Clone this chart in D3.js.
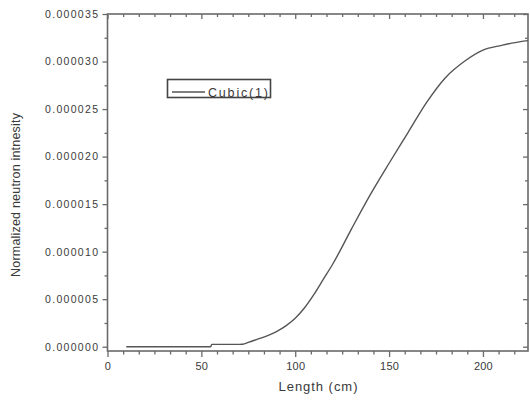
<!DOCTYPE html>
<html>
<head>
<meta charset="utf-8">
<script src="https://cdn.jsdelivr.net/npm/d3@7"></script>
<style>
  html, body { margin: 0; padding: 0; background: #fff; }
  svg { display: block; font-family: "Liberation Sans", Arial, sans-serif; }
</style>
</head>
<body>
<svg id="chart" width="530" height="404"></svg>
<script>
// Length along the sample (cm)
const lengthCm = [10, 20, 30, 40, 50, 55, 55.5, 60, 70, 72, 75, 80, 85, 90, 95, 100, 105, 110, 115, 120,
                  130, 140, 150, 160, 170, 180, 190, 200, 210, 220, 224];
// Normalized neutron intensity, cubic fit (1)
const intensity = [0, 0, 0, 0, 0, 0, 2.5e-7, 2.5e-7, 2.5e-7, 2.6e-7, 4.5e-7, 8.0e-7, 1.15e-6, 1.6e-6, 2.2e-6,
                   3.0e-6, 4.1e-6, 5.5e-6, 7.1e-6, 8.7e-6,
                   1.24e-5, 1.60e-5, 1.93e-5, 2.25e-5, 2.57e-5, 2.83e-5, 3.00e-5, 3.12e-5, 3.17e-5, 3.21e-5, 3.22e-5];
const xTicks = [0, 50, 100, 150, 200];
const yTicks = [0, 0.000005, 0.00001, 0.000015, 0.00002, 0.000025, 0.00003, 0.000035];
const seriesName = "Cubic(1)";
const xTitle = "Length (cm)";
const yTitle = "Normalized neutron intnesity";

const svg = d3.select("#chart");
const plotL = 107.5, plotR = 528, plotT = 14, plotB = 351;
const axisColor = "#6a6a6a";
const textColor = "#3a3a3a";

const x = d3.scaleLinear().domain([0, 224]).range([plotL, plotR]);
const y = d3.scaleLinear().domain([-4.5e-7, 3.5e-5]).range([plotB, plotT]);

// minor ticks: five between x majors, one between y majors
const xMinor = d3.range(0, 224, 50 / 6).filter(v => !xTicks.some(t => Math.abs(t - v) < 1e-6));
const yMinor = d3.range(0, 3.5e-5 + 1e-9, 2.5e-6).filter(v => !yTicks.some(t => Math.abs(t - v) < 1e-9));

const g = svg.append("g");

function tickGroup(sel) {
  sel.selectAll(".domain").remove();
  sel.selectAll("line").attr("stroke", axisColor).attr("stroke-width", 1.3);
}

// bottom axis (labelled) and top mirror
g.append("g").attr("transform", `translate(0,${plotB})`)
  .call(d3.axisBottom(x).tickValues(xTicks).tickSize(6).tickFormat(d3.format("d")))
  .call(tickGroup)
  .call(s => s.selectAll("text").attr("fill", textColor).attr("font-size", 11)
        .attr("dy", "0.71em").attr("y", 11.5).attr("letter-spacing", 0.2));
g.append("g").attr("transform", `translate(0,${plotB})`)
  .call(d3.axisBottom(x).tickValues(xMinor).tickSize(3.5).tickFormat(""))
  .call(tickGroup);
g.append("g").attr("transform", `translate(0,${plotT})`)
  .call(d3.axisBottom(x).tickValues(xTicks).tickSize(5).tickFormat(""))
  .call(tickGroup);
g.append("g").attr("transform", `translate(0,${plotT})`)
  .call(d3.axisBottom(x).tickValues(xMinor).tickSize(3).tickFormat(""))
  .call(tickGroup);

// left axis (labelled) and right mirror
g.append("g").attr("transform", `translate(${plotL},0)`)
  .call(d3.axisLeft(y).tickValues(yTicks).tickSize(5).tickFormat(d3.format(".6f")))
  .call(tickGroup)
  .call(s => s.selectAll("text").attr("fill", textColor).attr("font-size", 10.5)
        .attr("x", -9.5).attr("textLength", 53).attr("lengthAdjust", "spacing"));
g.append("g").attr("transform", `translate(${plotL},0)`)
  .call(d3.axisLeft(y).tickValues(yMinor).tickSize(3).tickFormat(""))
  .call(tickGroup);
g.append("g").attr("transform", `translate(${plotR},0)`)
  .call(d3.axisLeft(y).tickValues(yTicks).tickSize(5).tickFormat(""))
  .call(tickGroup);
g.append("g").attr("transform", `translate(${plotR},0)`)
  .call(d3.axisLeft(y).tickValues(yMinor).tickSize(3).tickFormat(""))
  .call(tickGroup);

// plot frame
g.append("rect")
  .attr("x", plotL).attr("y", plotT)
  .attr("width", plotR - plotL).attr("height", plotB - plotT)
  .attr("fill", "none").attr("stroke", axisColor).attr("stroke-width", 1.6);

// data curve
const pts = lengthCm.map((d, i) => [d, intensity[i]]);
g.append("path")
  .datum(pts)
  .attr("fill", "none")
  .attr("stroke", "#555")
  .attr("stroke-width", 1.4)
  .attr("stroke-linejoin", "round")
  .attr("d", d3.line().curve(d3.curveMonotoneX).x(d => x(d[0])).y(d => y(d[1])));

// axis titles
svg.append("text")
  .attr("x", 318).attr("y", 391)
  .attr("text-anchor", "middle")
  .attr("font-size", 13).attr("fill", textColor)
  .attr("textLength", 79).attr("lengthAdjust", "spacing")
  .text(xTitle);
svg.append("text")
  .attr("transform", "translate(19.5,195) rotate(-90)")
  .attr("text-anchor", "middle")
  .attr("font-size", 12.5).attr("fill", textColor)
  .attr("textLength", 164).attr("lengthAdjust", "spacing")
  .text(yTitle);

// legend
const leg = svg.append("g");
leg.append("rect")
  .attr("x", 167.5).attr("y", 79.5).attr("width", 103).attr("height", 18)
  .attr("fill", "#fff").attr("stroke", "#444").attr("stroke-width", 1.6);
leg.append("line")
  .attr("x1", 172).attr("x2", 205).attr("y1", 92).attr("y2", 92)
  .attr("stroke", "#555").attr("stroke-width", 1.4);
leg.append("text")
  .attr("x", 208).attr("y", 96.5)
  .attr("font-size", 12.5).attr("fill", textColor)
  .attr("textLength", 60).attr("lengthAdjust", "spacing")
  .text(seriesName);
</script>
</body>
</html>
